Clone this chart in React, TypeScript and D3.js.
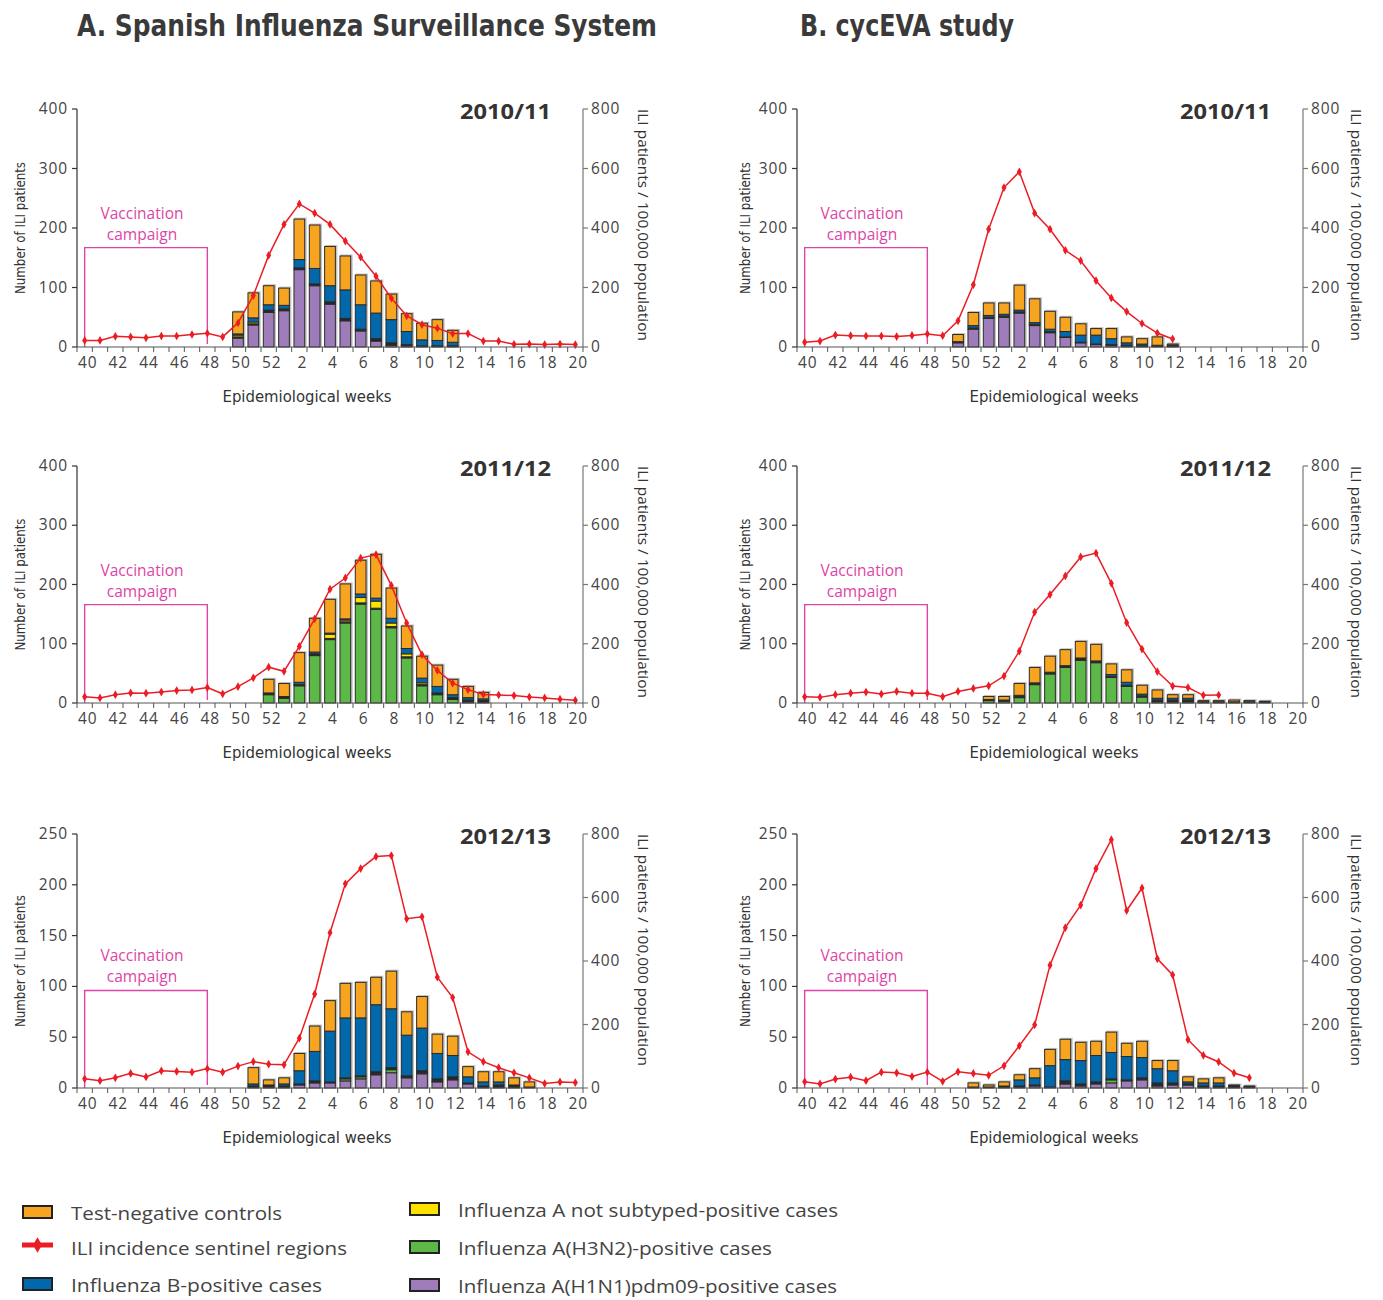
import * as d3 from 'd3';

// epidemiological weeks shown on every panel (season runs week 40 -> week 20)
const WEEKS = [40, 41, 42, 43, 44, 45, 46, 47, 48, 49, 50, 51, 52, 1, 2, 3, 4, 5, 6, 7, 8, 9, 10, 11, 12, 13, 14, 15, 16, 17, 18, 19, 20];
const TICK_WEEKS = [40, 42, 44, 46, 48, 50, 52, 2, 4, 6, 8, 10, 12, 14, 16, 18, 20];

// ---- A. Spanish Influenza Surveillance System, 2010/11 (bars from week 50)
const A1_FROM = 50;
const A1_H1N1 = [15, 37, 58, 61, 130, 103, 72, 44, 27, 10, 3, 2, 1, 1, 1];
const A1_OTHER = [2, 2, 4, 3, 3, 3, 4, 4, 3, 4, 4, 2, 1, 1, 1];
const A1_NOTSUB = [3, 3];
const A1_B = [2, 7, 9, 6, 14, 26, 27, 48, 41, 43, 39, 22, 10, 9, 6];
const A1_CONTROLS = [37, 42, 32, 29, 68, 73, 66, 57, 50, 54, 43, 30, 28, 35, 20];
const A1_ILI = [22, 22, 36, 34, 31, 37, 37, 42, 46, 34, 81, 173, 308, 412, 481, 450, 412, 356, 302, 238, 164, 105, 75, 63, 45, 45, 20, 20, 9, 10, 8, 10, 8];

// ---- B. cycEVA study, 2010/11
const B1_FROM = 50;
const B1_H1N1 = [7, 30, 48, 50, 57, 36, 24, 16, 7, 4, 3, 2, 1, 1, 1];
const B1_OTHER = [1, 2, 2, 2, 2, 2, 2, 1, 1, 1, 1, 1, 1, 1, 1];
const B1_B = [1, 4, 3, 3, 3, 3, 4, 9, 12, 15, 10, 4, 3, 1, 1];
const B1_CONTROLS = [12, 22, 21, 19, 42, 40, 30, 24, 19, 11, 17, 10, 9, 14, 2];
const B1_ILI = [16, 20, 40, 38, 37, 37, 35, 39, 44, 38, 88, 209, 396, 536, 589, 450, 396, 325, 290, 223, 165, 119, 79, 47, 27];

// ---- A. 2011/12 (bars from week 52)
const A2_FROM = 52;
const A2_H3N2 = [14, 8, 29, 80, 107, 135, 167, 158, 127, 76, 29, 14, 6, 2, 1];
const A2_OTHER = [3, 3, 2, 3, 2, 2, 2, 2, 2, 2, 2, 3, 3, 3, 3];
const A2_NOTSUB = [0, 0, 0, 0, 7, 3, 9, 12, 6, 5, 3, 0, 0, 0, 0];
const A2_B = [0, 0, 4, 3, 2, 2, 6, 5, 8, 9, 8, 11, 5, 4, 3];
const A2_CONTROLS = [23, 22, 50, 57, 57, 59, 57, 74, 51, 38, 37, 36, 26, 19, 11];
const A2_ILI = [21, 17, 28, 34, 33, 37, 42, 44, 52, 31, 55, 85, 121, 107, 191, 284, 384, 422, 489, 501, 397, 270, 163, 110, 67, 45, 29, 27, 25, 20, 17, 13, 9];

// ---- B. 2011/12
const B2_FROM = 52;
const B2_H3N2 = [4, 3, 9, 31, 49, 60, 72, 68, 43, 28, 10, 2, 2, 2, 0, 0, 0, 0, 0];
const B2_OTHER = [2, 2, 2, 3, 3, 3, 4, 3, 2, 2, 2, 3, 3, 3, 2, 2, 2, 2, 2];
const B2_B = [0, 0, 2, 0, 0, 0, 0, 0, 3, 5, 3, 3, 3, 3, 0, 0, 0, 0, 0];
const B2_CONTROLS = [5, 6, 20, 26, 27, 27, 28, 28, 18, 21, 15, 14, 6, 6, 2, 2, 3, 2, 1];
const B2_ILI = [21, 19, 28, 33, 37, 30, 39, 33, 33, 21, 39, 49, 58, 91, 175, 307, 366, 429, 493, 506, 404, 271, 182, 106, 57, 52, 26, 27];

// ---- A. 2012/13 (bars from week 51)
const A3_FROM = 51;
const A3_H1N1 = [1, 1, 1, 3, 5, 5, 7, 9, 13, 15, 10, 14, 6, 8, 4, 1, 1, 0, 0];
const A3_H3N2 = [0, 0, 0, 0, 0, 0, 2, 2, 1, 3, 1, 1, 1, 0, 0, 0, 0, 0, 0];
const A3_OTHER = [1, 1, 1, 1, 2, 1, 1, 1, 2, 2, 1, 2, 2, 3, 1, 1, 2, 2, 1];
const A3_B = [2, 1, 2, 13, 29, 50, 59, 57, 66, 58, 40, 42, 25, 21, 6, 4, 3, 1, 0];
const A3_CONTROLS = [16, 5, 6, 17, 25, 30, 34, 35, 27, 37, 23, 31, 19, 19, 10, 10, 10, 7, 5];
const A3_ILI = [29, 23, 32, 46, 35, 54, 52, 50, 61, 50, 69, 83, 75, 73, 157, 296, 489, 643, 691, 729, 732, 533, 539, 349, 285, 114, 83, 64, 48, 32, 14, 19, 17];

// ---- B. 2012/13
const B3_FROM = 51;
const B3_H1N1 = [0, 0, 1, 1, 2, 1, 4, 2, 4, 5, 7, 8, 2, 3, 3, 1, 1, 0, 0];
const B3_H3N2 = [0, 0, 0, 0, 0, 0, 1, 0, 0, 3, 0, 0, 1, 0, 0, 0, 0, 0, 0];
const B3_OTHER = [1, 1, 1, 1, 1, 0, 2, 2, 2, 1, 1, 2, 2, 2, 1, 1, 1, 1, 1];
const B3_B = [0, 0, 0, 6, 7, 21, 21, 23, 26, 26, 23, 20, 14, 12, 2, 3, 3, 1, 0];
const B3_CONTROLS = [4, 2, 4, 5, 9, 16, 20, 18, 14, 20, 13, 16, 8, 10, 5, 4, 5, 1, 1];
const B3_ILI = [20, 13, 28, 34, 23, 50, 48, 36, 50, 21, 51, 46, 40, 70, 133, 199, 387, 505, 576, 691, 782, 559, 630, 407, 356, 152, 103, 82, 47, 32];

const SEASONS = ['2010/11', '2011/12', '2012/13'];
const LEFT_MAX = [400, 400, 250];
const VACC_TOP = [167, 166, 96]; // height of the vaccination campaign bracket (left axis units)

const KEYS = ['h1n1', 'h3n2', 'other', 'notSub', 'fluB', 'controls'] as const;
const COLORS: Record<string, string> = {
  h1n1: '#9d7cb9',
  h3n2: '#5cb947',
  other: '#262626',
  notSub: '#ffe100',
  fluB: '#0068ab',
  controls: '#f7a520',
};
const RED = '#ec1c24';
const PINK = '#dc45a6';
const FONT = "'Open Sans', 'Noto Sans', sans-serif";
const COND = "'DejaVu Sans Condensed', 'Liberation Sans Narrow', 'Open Sans', sans-serif";

type Bars = { from: number } & Partial<Record<(typeof KEYS)[number], number[]>>;

const PANELS: { bars: Bars; ili: number[] }[][] = [
  [
    { bars: { from: A1_FROM, h1n1: A1_H1N1, other: A1_OTHER, notSub: A1_NOTSUB, fluB: A1_B, controls: A1_CONTROLS }, ili: A1_ILI },
    { bars: { from: B1_FROM, h1n1: B1_H1N1, other: B1_OTHER, fluB: B1_B, controls: B1_CONTROLS }, ili: B1_ILI },
  ],
  [
    { bars: { from: A2_FROM, h3n2: A2_H3N2, other: A2_OTHER, notSub: A2_NOTSUB, fluB: A2_B, controls: A2_CONTROLS }, ili: A2_ILI },
    { bars: { from: B2_FROM, h3n2: B2_H3N2, other: B2_OTHER, fluB: B2_B, controls: B2_CONTROLS }, ili: B2_ILI },
  ],
  [
    { bars: { from: A3_FROM, h1n1: A3_H1N1, h3n2: A3_H3N2, other: A3_OTHER, fluB: A3_B, controls: A3_CONTROLS }, ili: A3_ILI },
    { bars: { from: B3_FROM, h1n1: B3_H1N1, h3n2: B3_H3N2, other: B3_OTHER, fluB: B3_B, controls: B3_CONTROLS }, ili: B3_ILI },
  ],
];

const COL_X = [77, 797];
const PLOT_W = 506;
const ROW_TOP = [109, 466, 834];
const ROW_BASE = [347, 703, 1088];
const YLABEL_X = [20, 745];
const RLABEL_X = [644, 1357];
const XTITLE_DX = [230, 257];

interface PanelProps {
  x0: number;
  top: number;
  base: number;
  yMax: number;
  season: string;
  bars: Bars;
  ili: number[];
  vaccTop: number;
  yLabelX: number;
  rLabelX: number;
  xTitleDx: number;
}

const Panel = ({ x0, top, base, yMax, season, bars, ili, vaccTop, yLabelX, rLabelX, xTitleDx }: PanelProps) => {
  const x1 = x0 + PLOT_W;
  const x = d3.scaleBand<string>().domain(WEEKS.map(String)).range([x0, x1]).paddingInner(0.3).paddingOuter(0.15);
  const cx = (w: number) => (x(String(w)) ?? 0) + x.bandwidth() / 2;
  const step = x.step();
  const yL = d3.scaleLinear().domain([0, yMax]).range([base, top]);
  const yR = d3.scaleLinear().domain([0, 800]).range([base, top]);

  const start = WEEKS.indexOf(bars.from);
  const n = d3.max(KEYS, k => bars[k]?.length ?? 0) ?? 0;
  const rows = d3.range(n).map(i => {
    const r: Record<string, number | string> = { week: String(WEEKS[start + i]) };
    KEYS.forEach(k => { r[k] = bars[k]?.[i] ?? 0; });
    return r;
  });
  const stacked = d3.stack<Record<string, number | string>>().keys(KEYS as unknown as string[])(rows as any);
  const totals = rows.map(r => ({ week: r.week as string, total: d3.sum(KEYS, k => r[k] as number) }));

  const iliPts = ili.map((v, i) => [cx(WEEKS[i]), yR(v)] as [number, number]);
  const line = d3.line();
  const diamond = d3.symbol(d3.symbolDiamond, 22)();

  const vx0 = cx(40);
  const vx1 = cx(48);
  const vy = yL(vaccTop);

  return (
    <g>
      {/* vaccination campaign bracket */}
      <path d={`M${vx0},${base}V${vy}H${vx1}V${base - 3}`} fill="none" stroke={PINK} strokeWidth={1.4} />
      <text x={(vx0 + vx1) / 2 - 4} y={vy - 29} textAnchor="middle" fontFamily={FONT} fontSize={15.5} fill={PINK}>Vaccination</text>
      <text x={(vx0 + vx1) / 2 - 4} y={vy - 8} textAnchor="middle" fontFamily={FONT} fontSize={15.5} fill={PINK}>campaign</text>

      {/* bar shadows */}
      {totals.filter(t => t.total > 0).map(t => (
        <rect key={`s${t.week}`} x={(x(t.week) ?? 0) + 0.5} y={yL(t.total) - 1.5} width={x.bandwidth() + 1.5} height={base - yL(t.total) + 1.5} fill="#c4c4c4" />
      ))}
      {/* stacked bars */}
      {stacked.map(layer => (
        <g key={layer.key} fill={COLORS[layer.key]} stroke="#2b2b2b" strokeWidth={1}>
          {layer.filter(p => p[1] - p[0] > 0).map(p => (
            <rect key={String(p.data.week)} x={x(String(p.data.week))} y={yL(p[1])} width={x.bandwidth()} height={yL(p[0]) - yL(p[1])} />
          ))}
        </g>
      ))}

      {/* ILI incidence line */}
      <path d={line(iliPts) ?? ''} fill="none" stroke={RED} strokeWidth={1.5} />
      {iliPts.map((p, i) => (
        <path key={i} d={diamond ?? ''} transform={`translate(${p[0]},${p[1]})`} fill={RED} />
      ))}

      {/* left axis */}
      <line x1={x0} x2={x0} y1={top} y2={base} stroke="#333" strokeWidth={1.2} />
      {yL.ticks(5).map(t => (
        <g key={`l${t}`}>
          <line x1={x0 - 5} x2={x0} y1={yL(t)} y2={yL(t)} stroke="#333" strokeWidth={1.2} />
          <text x={x0 - 9} y={yL(t) + 5} textAnchor="end" fontFamily={FONT} fontSize={15.5} letterSpacing={0.9} fill="#444">{t}</text>
        </g>
      ))}
      {/* right axis */}
      <line x1={x1} x2={x1} y1={top} y2={base} stroke="#777" strokeWidth={1.2} />
      {yR.ticks(4).map(t => (
        <g key={`r${t}`}>
          <line x1={x1} x2={x1 + 5} y1={yR(t)} y2={yR(t)} stroke="#777" strokeWidth={1.2} />
          <text x={x1 + 8} y={yR(t) + 5} fontFamily={FONT} fontSize={15.5} letterSpacing={0.9} fill="#444">{t}</text>
        </g>
      ))}
      {/* bottom axis */}
      <line x1={x0} x2={x1} y1={base} y2={base} stroke="#555" strokeWidth={1.2} />
      {d3.range(WEEKS.length + 1).map(i => (
        <line key={`b${i}`} x1={x0 + i * step} x2={x0 + i * step} y1={base} y2={base + 5} stroke="#555" strokeWidth={1} />
      ))}
      {TICK_WEEKS.map(w => (
        <text key={`t${w}`} x={cx(w) + 3} y={base + 21} textAnchor="middle" fontFamily={FONT} fontSize={15.5} letterSpacing={0.9} fill="#444">{w}</text>
      ))}

      <text x={x0 + xTitleDx} y={base + 55} textAnchor="middle" fontFamily={COND} fontSize={16} fill="#333" textLength={169} lengthAdjust="spacingAndGlyphs">Epidemiological weeks</text>
      <text transform={`translate(${yLabelX},${(top + base) / 2}) rotate(-90)`} textAnchor="middle" dominantBaseline="central" fontFamily={COND} fontSize={14} fill="#333" textLength={132} lengthAdjust="spacingAndGlyphs">Number of ILI patients</text>
      <text transform={`translate(${rLabelX},${top}) rotate(90)`} dominantBaseline="central" fontFamily={FONT} fontSize={15} fill="#333" textLength={232} lengthAdjust="spacingAndGlyphs">ILI patients / 100,000 population</text>
      <text x={x0 + 474} y={top + 10} textAnchor="end" fontFamily={FONT} fontWeight="bold" fontSize={21} fill="#333" textLength={91} lengthAdjust="spacingAndGlyphs">{season}</text>
    </g>
  );
};

const LEGEND_LEFT = [
  { label: 'Test-negative controls', key: 'controls', y: 1213, w: 211 },
  { label: 'ILI incidence sentinel regions', key: 'ili', y: 1248, w: 276 },
  { label: 'Influenza B-positive cases', key: 'fluB', y: 1285, w: 251 },
];
const LEGEND_RIGHT = [
  { label: 'Influenza A not subtyped-positive cases', key: 'notSub', y: 1210, w: 380 },
  { label: 'Influenza A(H3N2)-positive cases', key: 'h3n2', y: 1248, w: 314 },
  { label: 'Influenza A(H1N1)pdm09-positive cases', key: 'h1n1', y: 1286, w: 379 },
];

const LegendItem = ({ x, item }: { x: number; item: { label: string; key: string; y: number; w: number } }) => (
  <g>
    {item.key === 'ili' ? (
      <g>
        <line x1={x} x2={x + 31} y1={item.y - 3} y2={item.y - 3} stroke={RED} strokeWidth={5} />
        <path d={d3.symbol(d3.symbolDiamond, 70)() ?? ''} transform={`translate(${x + 15.5},${item.y - 3})`} fill={RED} />
      </g>
    ) : (
      <rect x={x + 1} y={item.y - 7} width={29} height={12} fill={COLORS[item.key]} stroke="#222" strokeWidth={2} />
    )}
    <text x={x + 49} y={item.y + 7} fontFamily={FONT} fontSize={19} fill="#444" textLength={item.w} lengthAdjust="spacingAndGlyphs">{item.label}</text>
  </g>
);

export default function App() {
  return (
    <svg width={1383} height={1300} style={{ position: 'absolute', left: 0, top: 0, background: '#fff' }}>
      <text x={77} y={36} fontFamily={COND} fontWeight="bold" fontSize={30} fill="#3a3a3a" textLength={580} lengthAdjust="spacingAndGlyphs">A. Spanish Influenza Surveillance System</text>
      <text x={800} y={36} fontFamily={COND} fontWeight="bold" fontSize={30} fill="#3a3a3a" textLength={214} lengthAdjust="spacingAndGlyphs">B. cycEVA study</text>
      {PANELS.map((row, r) =>
        row.map((p, c) => (
          <Panel
            key={`${r}-${c}`}
            x0={COL_X[c]}
            top={ROW_TOP[r]}
            base={ROW_BASE[r]}
            yMax={LEFT_MAX[r]}
            season={SEASONS[r]}
            bars={p.bars}
            ili={p.ili}
            vaccTop={VACC_TOP[r]}
            yLabelX={YLABEL_X[c]}
            rLabelX={RLABEL_X[c]}
            xTitleDx={XTITLE_DX[c]}
          />
        ))
      )}
      {LEGEND_LEFT.map(it => <LegendItem key={it.key} x={22} item={it} />)}
      {LEGEND_RIGHT.map(it => <LegendItem key={it.key} x={409} item={it} />)}
    </svg>
  );
}
